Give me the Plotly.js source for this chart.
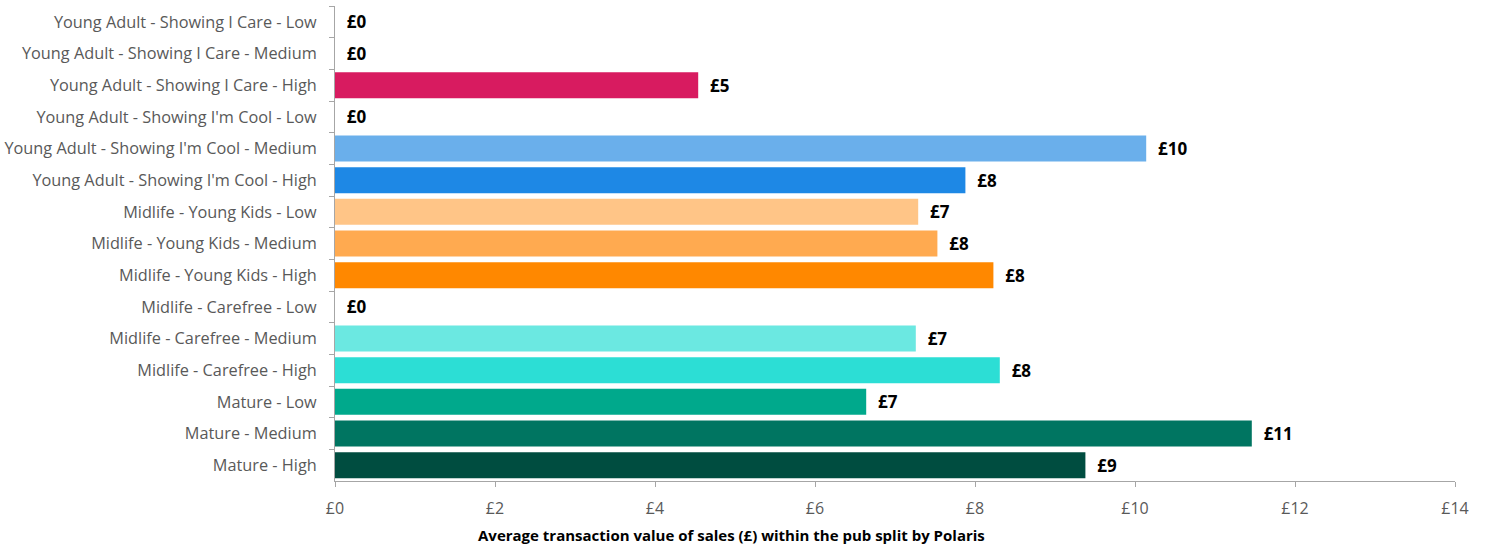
<!DOCTYPE html>
<html>
<head>
<meta charset="utf-8">
<script src="https://cdn.plot.ly/plotly-3.0.1.min.js"></script>
<style>html,body{margin:0;padding:0;background:#fff;}#chart{width:1489px;height:548px;}</style>
</head>
<body>
<div id="chart"></div>
<script>
const categories = [
  "Young Adult - Showing I Care - Low",
  "Young Adult - Showing I Care - Medium",
  "Young Adult - Showing I Care - High",
  "Young Adult - Showing I'm Cool - Low",
  "Young Adult - Showing I'm Cool - Medium",
  "Young Adult - Showing I'm Cool - High",
  "Midlife - Young Kids - Low",
  "Midlife - Young Kids - Medium",
  "Midlife - Young Kids - High",
  "Midlife - Carefree - Low",
  "Midlife - Carefree - Medium",
  "Midlife - Carefree - High",
  "Mature - Low",
  "Mature - Medium",
  "Mature - High"
];
const values = [0, 0, 4.54, 0, 10.14, 7.88, 7.29, 7.53, 8.23, 0, 7.26, 8.31, 6.64, 11.46, 9.38];
const colors = [
  "#F06C9B", "#E84A85", "#D81B60",
  "#A8D0F5", "#6AAFEB", "#1E88E5",
  "#FFC587", "#FFAA50", "#FF8800",
  "#A8F0EC", "#6BE8E1", "#2CDED5",
  "#00A98C", "#007561", "#004D40"
];
const xTickVals = [0, 2, 4, 6, 8, 10, 12, 14];
const xTickText = ["£0", "£2", "£4", "£6", "£8", "£10", "£12", "£14"];
const xTitle = "Average transaction value of sales (£) within the pub split by Polaris";

const trace = {
  type: "bar",
  orientation: "h",
  y: categories,
  x: values,
  marker: {color: colors, line: {width: 0}},
  texttemplate: "\u00a0\u00a0£%{x:.0f}",
  textposition: "outside",
  cliponaxis: false,
  textfont: {family: "Open Sans, sans-serif", size: 17, color: "#000000", weight: "bold"},
  hoverinfo: "none"
};

const layout = {
  width: 1489,
  height: 548,
  margin: {l: 335, r: 34, t: 6, b: 67},
  paper_bgcolor: "#ffffff",
  plot_bgcolor: "#ffffff",
  bargap: 0.18,
  showlegend: false,
  font: {family: "Open Sans, sans-serif"},
  xaxis: {
    range: [0, 14],
    tickvals: xTickVals,
    ticktext: xTickText,
    showgrid: false,
    zeroline: false,
    showline: true,
    linecolor: "#a6a6a6",
    linewidth: 1,
    ticks: "outside",
    ticklen: 5,
    tickcolor: "#a6a6a6",
    tickfont: {size: 16, color: "#595959"},
    ticklabelstandoff: 8
  },
  yaxis: {
    type: "category",
    autorange: "reversed",
    showgrid: false,
    zeroline: false,
    showline: true,
    linecolor: "#a6a6a6",
    linewidth: 1,
    ticks: "outside",
    ticklen: 5,
    tickcolor: "#a6a6a6",
    tickson: "boundaries",
    tickfont: {size: 16.3, color: "#595959"},
    ticklabelstandoff: 14
  },
  annotations: [{
    text: xTitle,
    xref: "paper", yref: "paper",
    x: 0.3536, y: -0.1137,
    xanchor: "center", yanchor: "middle",
    showarrow: false,
    font: {size: 15, color: "#000000", weight: "bold"}
  }]
};

Plotly.newPlot("chart", [trace], layout, {displayModeBar: false, staticPlot: true});
</script>
</body>
</html>
